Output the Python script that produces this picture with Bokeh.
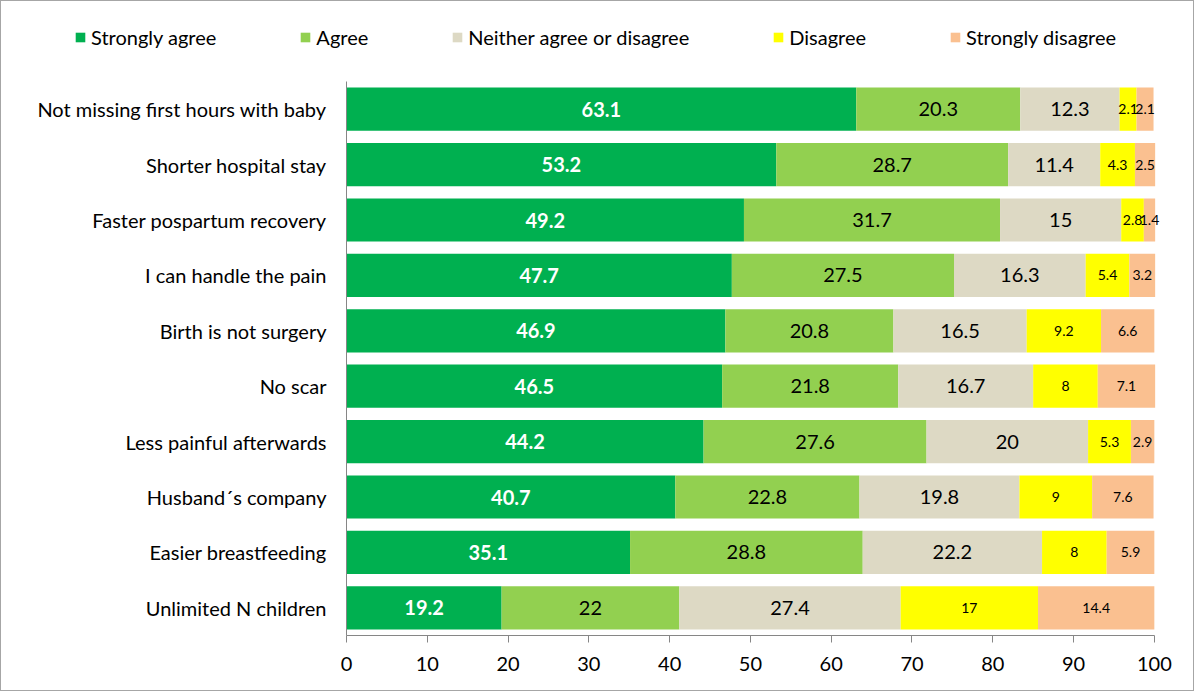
import numpy as np
from bokeh.plotting import figure
from bokeh.layouts import column
from bokeh.models import ColumnDataSource, FactorRange, Legend, LegendItem, FixedTicker, Range1d
from bokeh.core.properties import value
from bokeh.embed import file_html
from bokeh.resources import INLINE

categories = [
    "Not missing first hours with baby",
    "Shorter hospital stay",
    "Faster pospartum recovery",
    "I can handle the pain",
    "Birth is not surgery",
    "No scar",
    "Less painful afterwards",
    "Husband´s company",
    "Easier breastfeeding",
    "Unlimited N children",
]
series_names = ["Strongly agree", "Agree", "Neither agree or disagree", "Disagree", "Strongly disagree"]
strongly_agree = [63.1, 53.2, 49.2, 47.7, 46.9, 46.5, 44.2, 40.7, 35.1, 19.2]
agree = [20.3, 28.7, 31.7, 27.5, 20.8, 21.8, 27.6, 22.8, 28.8, 22]
neither = [12.3, 11.4, 15, 16.3, 16.5, 16.7, 20, 19.8, 22.2, 27.4]
disagree = [2.1, 4.3, 2.8, 5.4, 9.2, 8, 5.3, 9, 8, 17]
strongly_disagree = [2.1, 2.5, 1.4, 3.2, 6.6, 7.1, 2.9, 7.6, 5.9, 14.4]
x_ticks = [0, 10, 20, 30, 40, 50, 60, 70, 80, 90, 100]

colors = ["#00B050", "#92D050", "#DDD9C4", "#FFFF00", "#FAC090"]
keys = ["sa", "a", "n", "d", "sd"]
series = [strongly_agree, agree, neither, disagree, strongly_disagree]

FONT = "Lato"
W = 1192

data = {"cat": categories}
for k, s in zip(keys, series):
    data[k] = s
source = ColumnDataSource(data)

# frame extends slightly past 100 so the small end labels are not clipped;
# the x axis itself is bounded to 0..100
p = figure(
    width=W, height=629,
    y_range=FactorRange(factors=list(reversed(categories))),
    x_range=(0, 102),
    output_backend="svg", toolbar_location=None,
    min_border_left=345, min_border_right=23, min_border_top=20, min_border_bottom=55,
)
p.frame_align = False
p.outline_line_color = None
p.xgrid.grid_line_color = None
p.ygrid.grid_line_color = None

renderers = p.hbar_stack(keys, y="cat", height=0.78, color=colors, line_color=None, source=source)

# value labels
arr = np.array(series, dtype=float)
starts = np.vstack([np.zeros(len(categories)), np.cumsum(arr, axis=0)[:-1]])
centers = starts + arr / 2
for i, k in enumerate(keys):
    lab = ColumnDataSource(dict(
        x=list(centers[i]), y=categories, t=[f"{v:g}" for v in series[i]]
    ))
    common = dict(x="x", y="y", text="t", source=lab, text_align="center",
                  text_baseline="middle", text_font=value(FONT))
    if i == 0:
        p.text(**common, text_font_size="20px", text_font_style="bold", text_color="white")
    elif i in (1, 2):
        p.text(**common, text_font_size="20px", text_color="black")
    else:
        p.text(**common, text_font_size="14px", text_color="black")

# axes
p.xaxis.ticker = FixedTicker(ticks=x_ticks)
p.xaxis.bounds = (0, 100)
for ax in (p.xaxis[0], p.yaxis[0]):
    ax.axis_line_color = "#868686"
    ax.major_label_text_font = FONT
    ax.major_label_text_font_size = "20px"
    ax.major_label_text_color = "black"
    ax.minor_tick_line_color = None
p.xaxis.major_tick_line_color = "#868686"
p.xaxis.major_tick_out = 7
p.xaxis.major_tick_in = 0
p.xaxis.major_label_standoff = 14
p.yaxis.major_tick_line_color = None
p.yaxis.major_label_standoff = 14

# legend strip (swatch renderers sit outside the visible range; only the legend shows)
lg = figure(width=W, height=60, x_range=Range1d(0, 1), y_range=Range1d(0, 1),
            output_backend="svg", toolbar_location=None,
            min_border_left=0, min_border_right=0, min_border_top=0, min_border_bottom=0)
lg.frame_align = False
lg.axis.visible = False
lg.xgrid.grid_line_color = None
lg.ygrid.grid_line_color = None
lg.outline_line_color = None
swatches = [lg.quad(left=[5], right=[6], bottom=[5], top=[6], color=c, line_color=None) for c in colors]
legend = Legend(
    items=[LegendItem(label=n, renderers=[r]) for n, r in zip(series_names, swatches)],
    orientation="horizontal",
    location=(73, 12),
    label_text_font=FONT, label_text_font_size="20px", label_text_color="black",
    glyph_width=12, glyph_height=12, label_standoff=5, spacing=83,
    padding=0, margin=0, border_line_color=None, background_fill_alpha=0,
)
lg.add_layout(legend, "center")

layout = column(lg, p, spacing=0, styles={"border": "1px solid #A6A6A6"})

open("out.html", "w").write(file_html(layout, INLINE))
